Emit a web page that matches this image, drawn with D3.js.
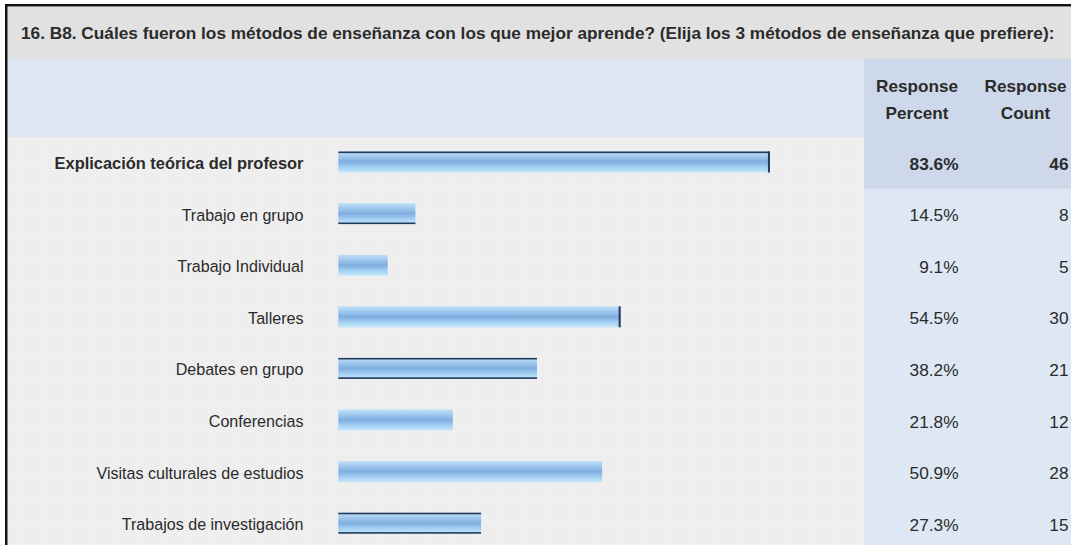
<!DOCTYPE html>
<html>
<head>
<meta charset="utf-8">
<script src="https://cdn.jsdelivr.net/npm/d3@7"></script>
<style>
  html, body { margin: 0; padding: 0; background: #ffffff; }
  svg { display: block; }
  text { font-family: "Liberation Sans", Arial, sans-serif; fill: #2b2b2b; }
</style>
</head>
<body>
<script>
// ---------------- DATA ----------------
const title = "16. B8. Cuáles fueron los métodos de enseñanza con los que mejor aprende? (Elija los 3 métodos de enseñanza que prefiere):";
const categories = [
  "Explicación teórica del profesor",
  "Trabajo en grupo",
  "Trabajo Individual",
  "Talleres",
  "Debates en grupo",
  "Conferencias",
  "Visitas culturales de estudios",
  "Trabajos de investigación"
];
const percents = [83.6, 14.5, 9.1, 54.5, 38.2, 21.8, 50.9, 27.3];
const counts = [46, 8, 5, 30, 21, 12, 28, 15];
const percentHeader = ["Response", "Percent"];
const countHeader = ["Response", "Count"];

// ---------------- LAYOUT / STYLE ----------------
const W = 1071, H = 545;
const left = 7.5, colX = 864;
const titleTop = 7, headerTop = 59, rowsTop = 137, rowStep = 51.6;
const highlighted = 0;
// dark edge artefacts on the bar images (top, right, bottom)
const barEdges = [["top","right"],["bottom"],[],["right"],["top","bottom"],[],[],["top","bottom"]];

const svg = d3.select("body").append("svg").attr("width", W).attr("height", H);

const defs = svg.append("defs");
const grad = defs.append("linearGradient").attr("id", "barGrad")
  .attr("x1", 0).attr("y1", 0).attr("x2", 0).attr("y2", 1);
[[0, "#c0e0f7"], [0.22, "#a4cbef"], [0.5, "#7eade0"], [0.75, "#a3cff2"], [1, "#c4e8fa"]]
  .forEach(([o, c]) => grad.append("stop").attr("offset", o).attr("stop-color", c));

// dotted texture
const pat = defs.append("pattern").attr("id", "dots").attr("width", 3).attr("height", 3)
  .attr("patternUnits", "userSpaceOnUse");
pat.append("rect").attr("width", 3).attr("height", 3).attr("fill", "#efefef");
pat.append("rect").attr("width", 1).attr("height", 1).attr("fill", "#e9e9e9");

// scales
const y = d3.scaleBand().domain(categories).range([rowsTop, rowsTop + rowStep * categories.length]).paddingInner(0);
const barX0 = 338.3;
const x = d3.scaleLinear().domain([0, 100]).range([2.7, 515.8]);

// backgrounds
svg.append("rect").attr("x", left).attr("y", titleTop).attr("width", W - left).attr("height", headerTop - titleTop).attr("fill", "#e1e1e1");
svg.append("rect").attr("x", left).attr("y", headerTop).attr("width", colX - left).attr("height", rowsTop - headerTop).attr("fill", "#dce7f3");
svg.append("rect").attr("x", colX).attr("y", headerTop).attr("width", W - colX).attr("height", rowsTop - headerTop).attr("fill", "#cdd9ea");

const rows = svg.append("g").selectAll("g").data(categories).join("g");
rows.append("rect").attr("x", left).attr("y", d => y(d)).attr("width", colX - left).attr("height", y.bandwidth() + 1)
  .attr("fill", "url(#dots)");
rows.append("rect").attr("x", colX).attr("y", d => y(d)).attr("width", W - colX).attr("height", y.bandwidth() + 1)
  .attr("fill", (d, i) => i === highlighted ? "#cdd8ea" : "#dee8f4");

// border
svg.append("path").attr("d", `M6.25,${H} L6.25,5.25 L${W},5.25`).attr("fill", "none").attr("stroke", "#111").attr("stroke-width", 2.5);

// bars
const barOff = 14.5, barH = 21;
rows.append("rect")
  .attr("x", barX0)
  .attr("y", d => y(d) + barOff)
  .attr("width", (d, i) => x(percents[i]))
  .attr("height", barH)
  .attr("fill", "url(#barGrad)");
const edgeColor = "#223a5c";
rows.each(function (d, i) {
  const g = d3.select(this);
  const y0 = y(d) + barOff, w = x(percents[i]);
  barEdges[i].forEach(e => {
    if (e === "top") g.append("rect").attr("x", barX0).attr("y", y0).attr("width", w).attr("height", 1.6).attr("fill", edgeColor);
    if (e === "bottom") g.append("rect").attr("x", barX0).attr("y", y0 + barH - 1.6).attr("width", w).attr("height", 1.6).attr("fill", edgeColor);
    if (e === "right") g.append("rect").attr("x", barX0 + w - 2).attr("y", y0).attr("width", 2).attr("height", barH).attr("fill", edgeColor);
  });
});

// text fitting helper
function fitSize(str, weight, target, base) {
  const t = svg.append("text").attr("font-size", base).attr("font-weight", weight).text(str);
  const w = t.node().getComputedTextLength();
  t.remove();
  return base * target / w;
}
const titleSize = fitSize(title, "bold", 1034, 15);
const labelSize = fitSize("Trabajo en grupo", "normal", 122, 16);
const boldLabelSize = fitSize(categories[0], "bold", 249, 16);
const headerSize = fitSize("Response", "bold", 82, 16);
const valueSize = fitSize("83.6%", "normal", 49, 16);

// title
svg.append("text").attr("x", 21).attr("y", 33).attr("dominant-baseline", "central")
  .attr("font-size", titleSize).attr("font-weight", "bold").text(title);

// column headers
[[percentHeader, 917], [countHeader, 1025.5]].forEach(([lines, cx]) => {
  lines.forEach((s, k) => {
    svg.append("text").attr("x", cx).attr("y", 86 + k * 27).attr("text-anchor", "middle")
      .attr("dominant-baseline", "central").attr("font-size", headerSize).attr("font-weight", "bold").text(s);
  });
});

// labels
const fmt = d3.format(".1f");
rows.append("text")
  .attr("x", 303.5).attr("y", d => y(d) + 26).attr("text-anchor", "end").attr("dominant-baseline", "central")
  .attr("font-size", (d, i) => i === highlighted ? boldLabelSize : labelSize)
  .attr("font-weight", (d, i) => i === highlighted ? "bold" : "normal")
  .text(d => d);
rows.append("text")
  .attr("x", 958.5).attr("y", d => y(d) + 26.5).attr("text-anchor", "end").attr("dominant-baseline", "central")
  .attr("font-size", valueSize)
  .attr("font-weight", (d, i) => i === highlighted ? "bold" : "normal")
  .text((d, i) => fmt(percents[i]) + "%");
rows.append("text")
  .attr("x", 1068.5).attr("y", d => y(d) + 26.5).attr("text-anchor", "end").attr("dominant-baseline", "central")
  .attr("font-size", valueSize)
  .attr("font-weight", (d, i) => i === highlighted ? "bold" : "normal")
  .text((d, i) => counts[i]);
</script>
</body>
</html>
